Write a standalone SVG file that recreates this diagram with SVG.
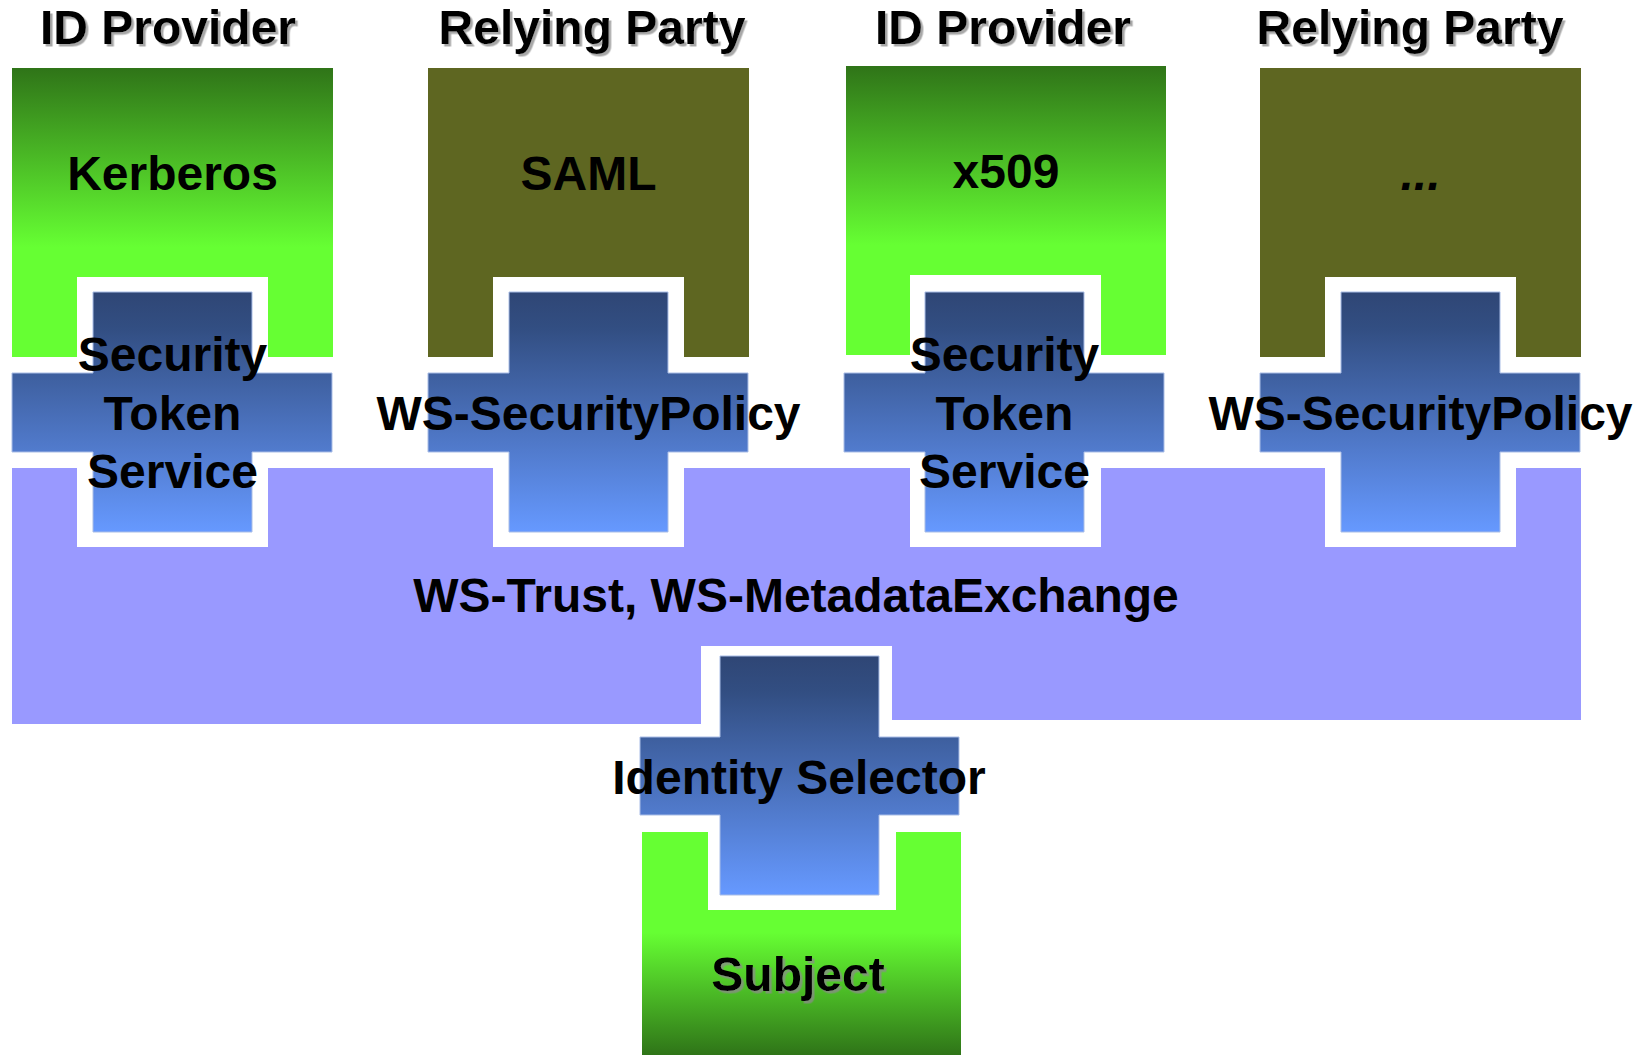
<svg xmlns="http://www.w3.org/2000/svg" width="1647" height="1055" viewBox="0 0 1647 1055">
<style>
text{font-family:"Liberation Sans",Arial,Helvetica,sans-serif;font-weight:bold;font-size:48px;fill:#000;text-anchor:middle}
.title{filter:url(#shadow)}
.notch{fill:#fff}
.cross{fill:url(#crossGrad);stroke:#a9bde6;stroke-width:1}
.idp{fill:url(#greenDown)}
.rp{fill:#5e6621}
.band{fill:#9999ff}
</style>
<defs>
<linearGradient id="crossGrad" x1="0" y1="0" x2="0" y2="1">
<stop offset="0" stop-color="#2f4675"/>
<stop offset="0.15" stop-color="#324e82"/>
<stop offset="1" stop-color="#6699ff"/>
</linearGradient>
<linearGradient id="greenDown" x1="0" y1="0" x2="0" y2="1">
<stop offset="0" stop-color="#2f7418"/>
<stop offset="0.62" stop-color="#66ff33"/>
<stop offset="1" stop-color="#66ff33"/>
</linearGradient>
<linearGradient id="greenUp" x1="0" y1="0" x2="0" y2="1">
<stop offset="0" stop-color="#66ff33"/>
<stop offset="0.45" stop-color="#66ff33"/>
<stop offset="1" stop-color="#2f7418"/>
</linearGradient>
<filter id="shadow" x="-10%" y="-30%" width="120%" height="160%">
<feDropShadow dx="2.5" dy="2.5" stdDeviation="0.6" flood-color="#8a8a8a" flood-opacity="0.75"/>
</filter>
</defs>

<g id="idp-kerberos">
<text class="title" x="168" y="44">ID Provider</text>
<rect class="idp" x="12" y="68" width="321" height="289"/>
<text x="172.5" y="190">Kerberos</text>
</g>
<g id="rp-saml">
<text class="title" x="592" y="44">Relying Party</text>
<rect class="rp" x="428" y="68" width="321" height="289"/>
<text x="588.5" y="190">SAML</text>
</g>
<g id="idp-x509">
<text class="title" x="1003" y="44">ID Provider</text>
<rect class="idp" x="846" y="66" width="320" height="289"/>
<text x="1006" y="188">x509</text>
</g>
<g id="rp-other">
<text class="title" x="1410" y="44">Relying Party</text>
<rect class="rp" x="1260" y="68" width="321" height="289"/>
<text x="1420.5" y="190" font-style="italic">...</text>
</g>

<g id="ws-trust">
<path class="band" d="M12,468 H1581 V720 H796 V724 H12 Z"/>
<text x="796" y="612">WS-Trust, WS-MetadataExchange</text>
</g>

<g id="subject">
<rect fill="url(#greenUp)" x="642" y="832" width="319" height="223"/>
<text class="title" x="798" y="991">Subject</text>
</g>

<g id="sts-1">
<rect class="notch" x="77" y="277" width="191" height="270"/>
<path class="cross" d="M93,292 H252 V373 H332 V452 H252 V532 H93 V452 H12 V373 H93 Z"/>
<text x="172.5" y="371">Security</text>
<text x="172.5" y="430">Token</text>
<text x="172.5" y="488">Service</text>
</g>
<g id="ws-securitypolicy-1">
<rect class="notch" x="493" y="277" width="191" height="270"/>
<path class="cross" d="M509,292 H668 V373 H748 V452 H668 V532 H509 V452 H428 V373 H509 Z"/>
<text x="588.5" y="430">WS-SecurityPolicy</text>
</g>
<g id="sts-2">
<rect class="notch" x="910" y="275" width="191" height="272"/>
<path class="cross" d="M925,292 H1084 V373 H1164 V452 H1084 V532 H925 V452 H844 V373 H925 Z"/>
<text x="1004.5" y="371">Security</text>
<text x="1004.5" y="430">Token</text>
<text x="1004.5" y="488">Service</text>
</g>
<g id="ws-securitypolicy-2">
<rect class="notch" x="1325" y="277" width="191" height="270"/>
<path class="cross" d="M1341,292 H1500 V373 H1580 V452 H1500 V532 H1341 V452 H1260 V373 H1341 Z"/>
<text x="1420.5" y="430">WS-SecurityPolicy</text>
</g>
<g id="identity-selector">
<rect class="notch" x="701" y="646" width="191" height="184"/>
<rect class="notch" x="708" y="815" width="188" height="95"/>
<path class="cross" d="M720,656 H879 V737 H959 V815 H879 V895 H720 V815 H640 V737 H720 Z"/>
<text x="799" y="794">Identity Selector</text>
</g>

<g id="connectors"></g>
</svg>
